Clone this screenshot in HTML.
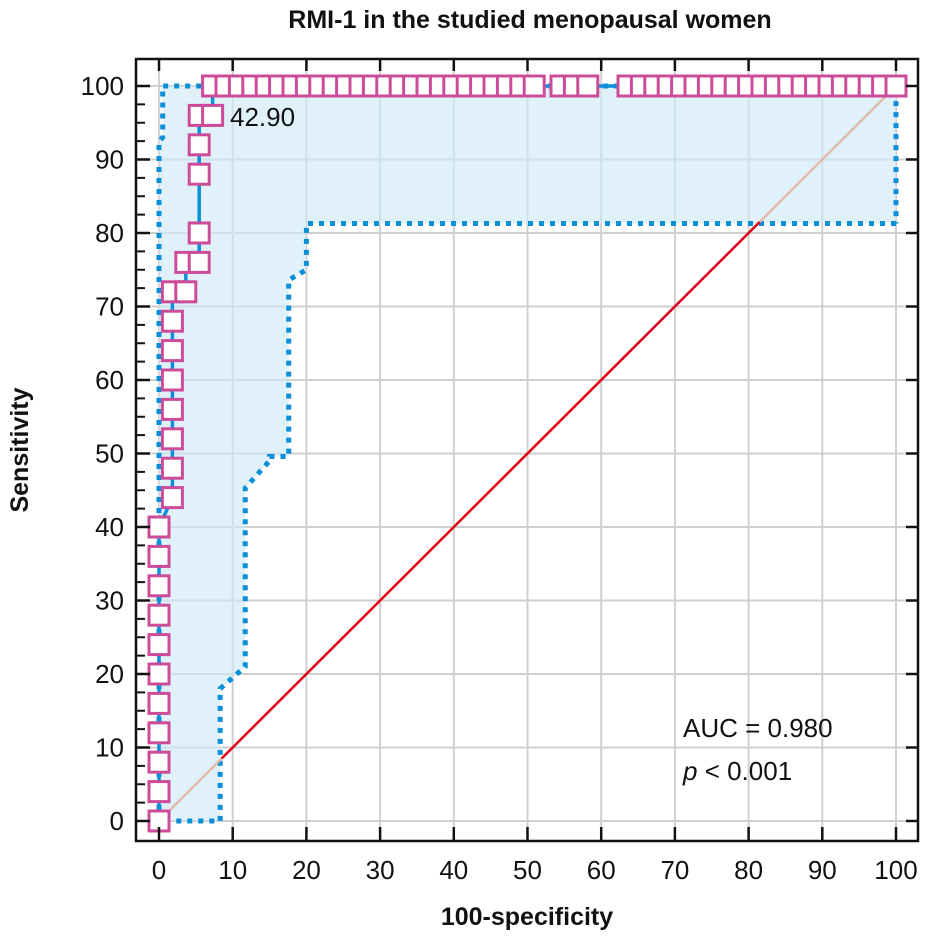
<!DOCTYPE html>
<html><head><meta charset="utf-8"><style>
html,body{margin:0;padding:0;background:#fff;}
svg{display:block;font-family:"Liberation Sans",sans-serif;}
</style></head><body>
<svg id="chart" width="925" height="937" viewBox="0 0 925 937">
<text x="530" y="28" text-anchor="middle" font-size="25" font-weight="bold" fill="#111">RMI-1 in the studied menopausal women</text>
<text transform="translate(28,450) rotate(-90)" text-anchor="middle" font-size="25" font-weight="bold" fill="#111">Sensitivity</text>
<text x="527" y="925" text-anchor="middle" font-size="25" font-weight="bold" fill="#111">100-specificity</text>
<g id="grid"></g>
<g id="band"></g>
<g id="diag"></g>
<g id="curve"></g>
<g id="axes"></g>
<text x="230" y="126" font-size="26" fill="#111">42.90</text>
<text x="683" y="737" font-size="26" fill="#111">AUC = 0.980</text>
<text x="683" y="780" font-size="26" fill="#111"><tspan font-style="italic">p</tspan> &lt; 0.001</text>
</svg>
<script>
const xTicks=[0,10,20,30,40,50,60,70,80,90,100];
const yTicks=[0,10,20,30,40,50,60,70,80,90,100];
const step=100/55;
const rocK=[0,0,0,0,0,0,0,0,0,0,0,1,1,1,1,1,1,1,1,2,2,3,3,3,3,3,4];
const rocY=[0,4,8,12,16,20,24,28,32,36,40,44,48,52,56,60,64,68,72,72,76,76,80,88,92,96,96];
const topK=[4,5,6,7,8,9,10,11,12,13,14,15,16,17,18,19,20,21,22,23,24,25,26,27,28,30,31,32,35,36,37,38,39,40,41,42,43,44,45,46,47,48,49,50,51,52,53,54,55];
const upperX=[0,0,0.5,0.5,100,100];
const upperY=[0,92.5,93,100,100,81.3];
const lowerX=[100,20,20,17.6,17.6,15,15,11.7,11.7,8.3,8.3,0];
const lowerY=[81.3,81.3,75,73.6,49.6,49.6,49,45.3,21,18,0,0];
const refStart=8.5, refEnd=81.5;
const X=v=>159+v*7.37, Y=v=>821-v*7.35;
const NS="http://www.w3.org/2000/svg";
function mk(tag,parent,attrs){const e=document.createElementNS(NS,tag);for(const k in attrs)e.setAttribute(k,attrs[k]);document.getElementById(parent).appendChild(e);return e;}
const L=136,R=918,T=59,B=841;
xTicks.forEach(t=>{const g=mk('line','grid',{x1:X(t),x2:X(t),y1:T,y2:B,stroke:'#cfcfcf','stroke-width':2});

});
yTicks.forEach(t=>{const g=mk('line','grid',{x1:L,x2:R,y1:Y(t),y2:Y(t),stroke:'#cfcfcf','stroke-width':2});

});
let pts=upperX.map((v,i)=>X(v)+','+Y(upperY[i])).concat(lowerX.map((v,i)=>X(v)+','+Y(lowerY[i])));
const fill=mk('polygon','band',{points:pts.join(' '),fill:'#cfe9f8','fill-opacity':0.65,stroke:'none'});


const up=mk('polyline','band',{points:upperX.map((v,i)=>X(v)+','+Y(upperY[i])).join(' '),fill:'none',stroke:'#0a8fd8','stroke-width':5,'stroke-dasharray':'5 6'});


const lo=mk('polyline','band',{points:lowerX.map((v,i)=>X(v)+','+Y(lowerY[i])).join(' '),fill:'none',stroke:'#0a8fd8','stroke-width':5,'stroke-dasharray':'5 6'});


const d1=mk('line','diag',{x1:X(0),y1:Y(0),x2:X(100),y2:Y(100),stroke:'#e2bba9','stroke-width':2.5});


const d2=mk('line','diag',{x1:X(refStart),y1:Y(refStart),x2:X(refEnd),y2:Y(refEnd),stroke:'#e0001a','stroke-width':2.5});


const allX=rocK.map(k=>k*step).concat(topK.map(k=>k*step));
const allY=rocY.concat(topK.map(()=>100));
const c=mk('polyline','curve',{points:allX.map((v,i)=>X(v)+','+Y(allY[i])).join(' '),fill:'none',stroke:'#0a8fd8','stroke-width':3.5});


allX.forEach((v,i)=>{const m=mk('rect','curve',{x:X(v)-10,y:Y(allY[i])-10,width:20,height:20,fill:'#fff',stroke:'#cc4c99','stroke-width':3});

});
const fr=mk('rect','axes',{x:L,y:T,width:R-L,height:B-T,fill:'none',stroke:'#111','stroke-width':2.5});


xTicks.forEach(t=>{mk('line','axes',{x1:X(t),x2:X(t),y1:B,y2:B-14,stroke:'#111','stroke-width':2.5});
mk('line','axes',{x1:X(t),x2:X(t),y1:T,y2:T+12,stroke:'#111','stroke-width':2.5});
const tx=mk('text','axes',{x:X(t),y:879,'text-anchor':'middle','font-size':26,fill:'#111'});tx.textContent=t;

});
yTicks.forEach(t=>{mk('line','axes',{x1:L,x2:L+14,y1:Y(t),y2:Y(t),stroke:'#111','stroke-width':2.5});
mk('line','axes',{x1:R,x2:R-12,y1:Y(t),y2:Y(t),stroke:'#111','stroke-width':2.5});
const tx=mk('text','axes',{x:124,y:Y(t)+9,'text-anchor':'end','font-size':26,fill:'#111'});tx.textContent=t;

});
for(let v=2.5;v<100;v+=2.5){if(v%10===0)continue;mk('line','axes',{x1:L,x2:L+9,y1:Y(v),y2:Y(v),stroke:'#111','stroke-width':2});}
</script>
</body></html>
